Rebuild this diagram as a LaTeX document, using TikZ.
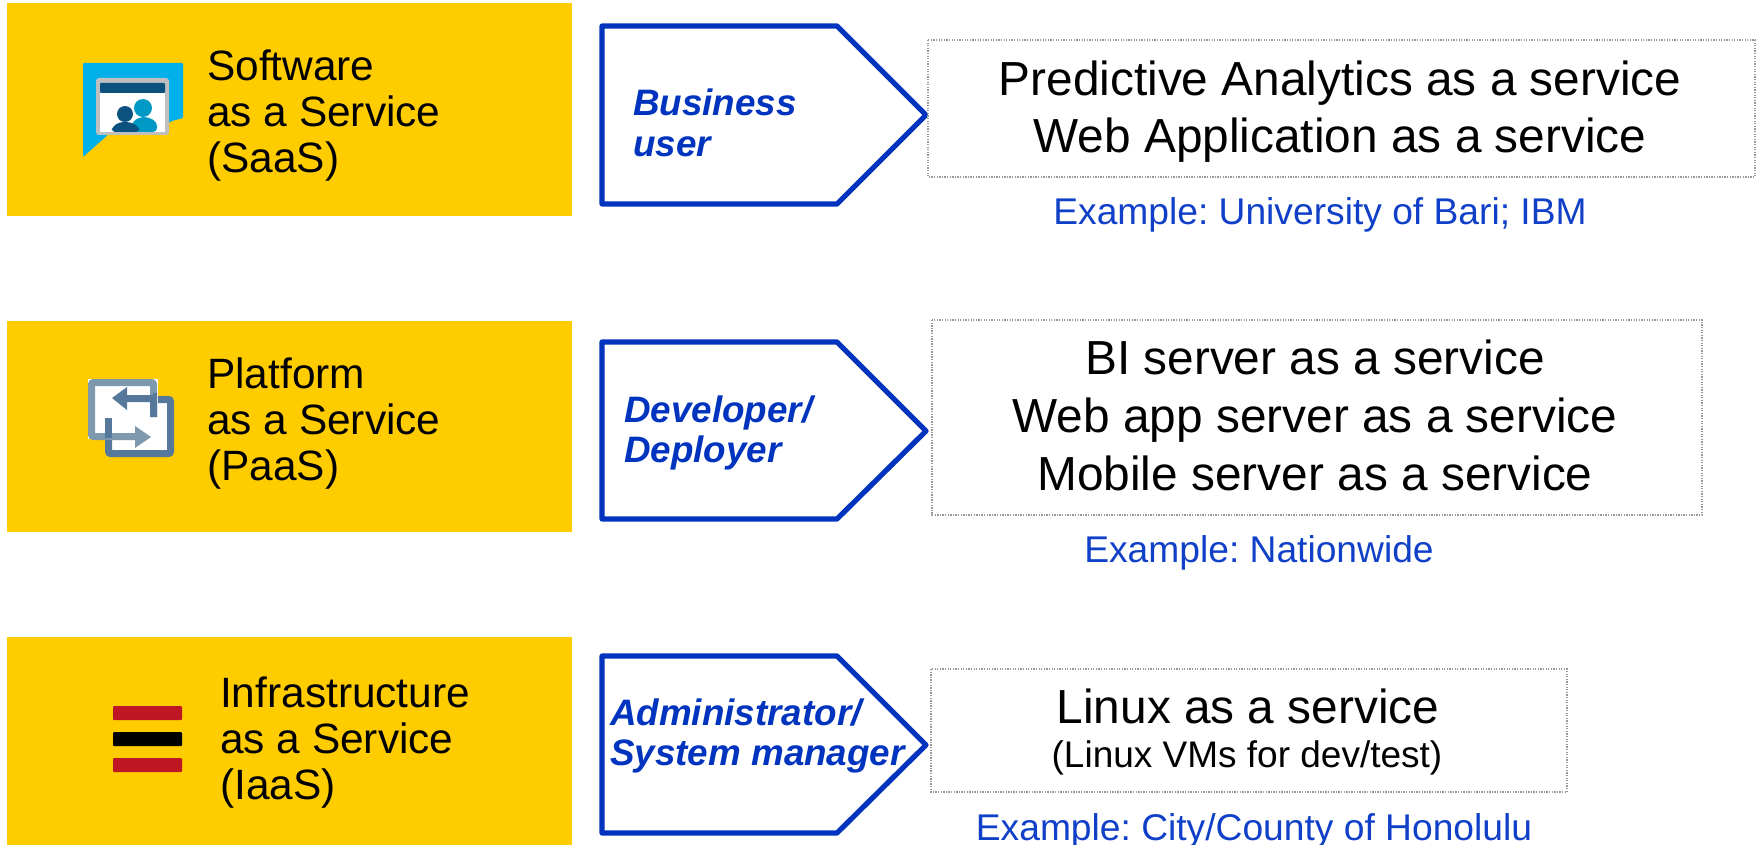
\documentclass[tikz,border=0pt]{standalone}
\usepackage{fontspec}
\setmainfont{Liberation Sans}
\frenchspacing
\definecolor{yel}{HTML}{FFCC00}
\definecolor{blu}{HTML}{0033BE}
\definecolor{exb}{HTML}{1040C8}
\definecolor{skyb}{HTML}{00B0EA}
\definecolor{navyb}{HTML}{0B527F}
\definecolor{tealb}{HTML}{0099C6}
\definecolor{slate}{HTML}{56789A}
\definecolor{slatel}{HTML}{7E98AE}
\definecolor{redb}{HTML}{BE1622}
\tikzset{
  band/.style={fill=yel,draw=none},
  tagshape/.style={draw=blu,line width=5.2pt,line join=round,fill=white},
  offer/.style={draw=black!40,dash pattern=on 1.3pt off 1.3pt,line width=1.5pt,fill=white},
  svc/.style={anchor=west,align=left,inner sep=0pt,font=\fontsize{42.4}{46}\selectfont},
  role/.style={anchor=west,align=left,inner sep=0pt,text=blu,font=\fontsize{36.8}{40.5}\selectfont\bfseries\itshape},
  main/.style={align=center,inner sep=0pt,font=\fontsize{47.8}{58}\selectfont},
  example/.style={inner sep=0pt,text=exb,font=\fontsize{37.2}{42}\selectfont},
}
\begin{document}
\begin{tikzpicture}[x=1pt,y=-1pt]
\useasboundingbox (0,0) rectangle (1756,845);
% bands
\fill[band] (7,3) rectangle (572,216);
\fill[band] (7,321) rectangle (572,532);
\fill[band] (7,637) rectangle (572,845);
% SaaS icon
\fill[skyb,rounded corners=1pt] (83,63) -- (183,63) -- (183,118) -- (172,121) -- (150,134) -- (110,133) -- (83,157) -- cycle;
\fill[black!25,rounded corners=3pt] (96,78) rectangle (169,135);
\fill[white] (100,93) rectangle (165,132);
\fill[navyb,rounded corners=1pt] (100,83) rectangle (165,93);
\fill[tealb] (143,108) circle (9pt);
\fill[tealb,rounded corners=4pt] (132,132) -- (132,122) -- (140,117) -- (148,117) -- (157,122) -- (157,132) -- cycle;
\fill[navyb] (125,114) circle (8pt);
\fill[navyb,rounded corners=4pt] (111,132) -- (113,126) -- (120,122) -- (130,122) -- (138,126) -- (140,132) -- cycle;
% PaaS icon
\draw[slate,line width=7pt,rounded corners=2pt,fill=white] (108.5,399.5) rectangle (170.5,453.5);
\fill[white] (88,379) rectangle (158,439);
\draw[slatel,line width=7pt,rounded corners=2pt] (153.5,417) -- (153.5,382.5) -- (91.5,382.5) -- (91.5,436.5) -- (136,436.5);
\fill[slate] (153,393) -- (157,393) -- (157,417) -- (150,417) -- (150,402) -- (127,402) -- (127,410) -- (112,398) -- (127,387) -- (127,395) -- (153,395) -- cycle;
\fill[slate] (105,418) rectangle (112,438);
\fill[slatel] (135,426) -- (151,437) -- (135,448) -- cycle;
% IaaS icon
\fill[redb,rounded corners=1pt] (113,706) rectangle (182,720);
\fill[black,rounded corners=1pt] (113,732) rectangle (182,746);
\fill[redb,rounded corners=1pt] (113,758) rectangle (182,772);
% service labels
\node[svc] (saas) at (207,116) {Software\\as a Service\\(SaaS)};
\node[svc] (paas) at (207,424) {Platform\\as a Service\\(PaaS)};
\node[svc] (iaas) at (220,743) {Infrastructure\\as a Service\\(IaaS)};
% tags
\draw[tagshape] (602,26) -- (837,26) -- (926,115) -- (837,204) -- (602,204) -- cycle;
\draw[tagshape] (602,342) -- (837,342) -- (926,431) -- (837,519) -- (602,519) -- cycle;
\draw[tagshape] (602,656) -- (837,656) -- (926,745) -- (837,833) -- (602,833) -- cycle;
\node[role] (r1) at (633,123) {Business\\user};
\node[role] (r2) at (624,433) {Developer/\\Deployer};
\node[role] (r3) at (610,736) {Administrator/\\System manager};
% offers
\draw[offer] (928,40) rectangle (1755,177);
\draw[offer] (932,320) rectangle (1702,515);
\draw[offer] (931,669) rectangle (1567,792);
\node[main,font=\fontsize{47.8}{57}\selectfont] (m1) at (1340,112) {Predictive Analytics as a service\\Web Application as a service};
\node[main] (m2) at (1315,415) {BI server as a service\\Web app server as a service\\Mobile server as a service};
\node[main] (m3) at (1248,706) {Linux as a service};
\node[inner sep=0pt,font=\fontsize{37}{42}\selectfont] (m3b) at (1247,758) {(Linux VMs for dev/test)};
% examples
\node[example] (e1) at (1320,215) {Example: University of Bari; IBM};
\node[example] (e2) at (1259,553) {Example: Nationwide};
\node[example] (e3) at (1254,831) {Example: City/County of Honolulu};
\end{tikzpicture}
\end{document}
